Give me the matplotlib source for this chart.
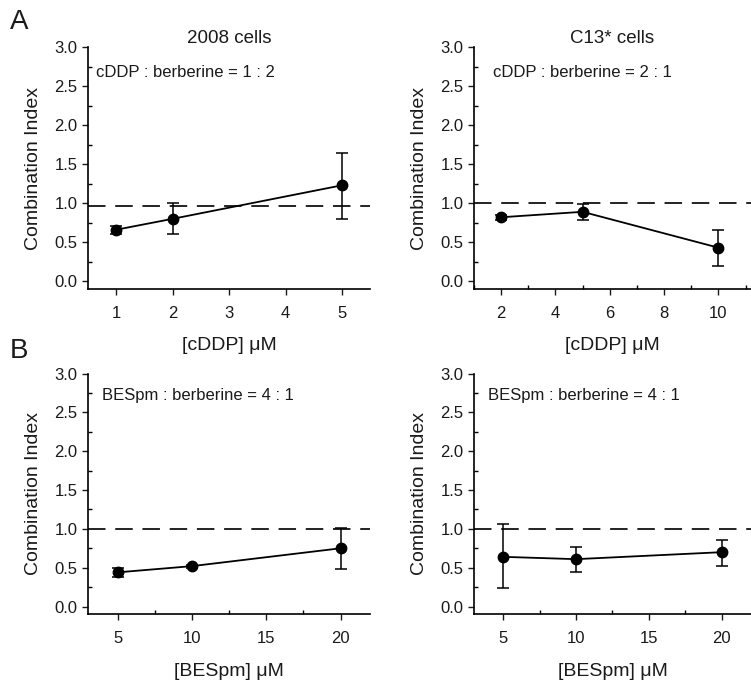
import numpy as np
import matplotlib
matplotlib.use('Agg')
import matplotlib.pyplot as plt
from matplotlib.ticker import MultipleLocator
import matplotlib.transforms as mtransforms

# panel A - cDDP
cddp_2008 = [1, 2, 5]
ci_2008 = [0.66, 0.80, 1.23]
err_2008_lo = [0.06, 0.20, 0.43]
err_2008_hi = [0.05, 0.20, 0.41]

cddp_c13 = [2, 5, 10]
ci_c13 = [0.82, 0.89, 0.43]
err_c13_lo = [0.03, 0.11, 0.24]
err_c13_hi = [0.03, 0.10, 0.23]

# panel B - BESpm
bespm = [5, 10, 20]
ci_b2008 = [0.44, 0.52, 0.75]
err_b2008_lo = [0.06, 0.02, 0.27]
err_b2008_hi = [0.06, 0.02, 0.26]

ci_bc13 = [0.64, 0.61, 0.70]
err_bc13_lo = [0.40, 0.16, 0.18]
err_bc13_hi = [0.42, 0.16, 0.16]

ratios = ['cDDP : berberine = 1 : 2', 'cDDP : berberine = 2 : 1',
          'BESpm : berberine = 4 : 1', 'BESpm : berberine = 4 : 1']

txtc = '#1a1a1a'
plt.rcParams['font.family'] = ['Liberation Sans', 'DejaVu Sans']

fig = plt.figure(figsize=(7.51, 6.81), dpi=100)

def panel(rect, x, y, lo, hi, xlim, xmaj, xmin, ref, ratio, rx, ry, xlabel, title=None):
    ax = fig.add_axes(rect)
    ax.axhline(ref, color='#222222', lw=1.4, dashes=(9, 5), zorder=1)
    ax.errorbar(x, y, yerr=[lo, hi], color='black', lw=1.3, marker='o',
                markersize=7.5, capsize=4, elinewidth=1.1, capthick=1.1, zorder=3)
    ax.set_xlim(*xlim)
    ax.set_ylim(-0.1, 3.0)
    ax.spines['top'].set_visible(False)
    ax.spines['right'].set_visible(False)
    ax.spines['left'].set_bounds(-0.1, 3.0)
    ax.spines['left'].set_linewidth(1.2)
    ax.spines['bottom'].set_linewidth(1.2)
    ax.yaxis.set_major_locator(MultipleLocator(0.5))
    ax.yaxis.set_minor_locator(MultipleLocator(0.25))
    ax.xaxis.set_major_locator(MultipleLocator(xmaj))
    if xmin:
        ax.xaxis.set_minor_locator(MultipleLocator(xmin))
    ax.yaxis.set_major_formatter(plt.FormatStrFormatter('%.1f'))
    ax.tick_params(which='major', direction='out', length=4, width=1, labelsize=12, colors=txtc)
    ax.tick_params(axis='x', which='major', pad=8)
    ax.tick_params(which='minor', direction='in', length=3, width=1)
    ax.set_ylabel('Combination Index', fontsize=14, color=txtc, labelpad=9)
    ax.set_xlabel(xlabel, fontsize=14, color=txtc, labelpad=12)
    trans = mtransforms.blended_transform_factory(ax.transAxes, ax.transData)
    ax.text(rx, ry, ratio, transform=trans, fontsize=12, color=txtc,
            va='center', ha='left')
    if title:
        ax.set_title(title, fontsize=13.5, color=txtc, pad=2)
    return ax

panel([0.117, 0.5756, 0.376, 0.355], cddp_2008, ci_2008, err_2008_lo, err_2008_hi,
      (0.5, 5.5), 1, None, 0.96, ratios[0], 0.03, 2.67, '[cDDP] μM', '2008 cells')
panel([0.631, 0.5756, 0.369, 0.355], cddp_c13, ci_c13, err_c13_lo, err_c13_hi,
      (1, 11.2), 2, 1, 1.0, ratios[1], 0.069, 2.67, '[cDDP] μM', 'C13* cells')
panel([0.117, 0.098, 0.376, 0.3533], bespm, ci_b2008, err_b2008_lo, err_b2008_hi,
      (3, 22), 5, 2.5, 1.0, ratios[2], 0.05, 2.72, '[BESpm] μM')
panel([0.631, 0.098, 0.369, 0.3533], bespm, ci_bc13, err_bc13_lo, err_bc13_hi,
      (3, 22), 5, 2.5, 1.0, ratios[3], 0.05, 2.72, '[BESpm] μM')

fig.text(0.013, 0.968, 'A', fontsize=20, color=txtc, va='center')
fig.text(0.013, 0.484, 'B', fontsize=20, color=txtc, va='center')

fig.savefig('out.png', dpi=100)
